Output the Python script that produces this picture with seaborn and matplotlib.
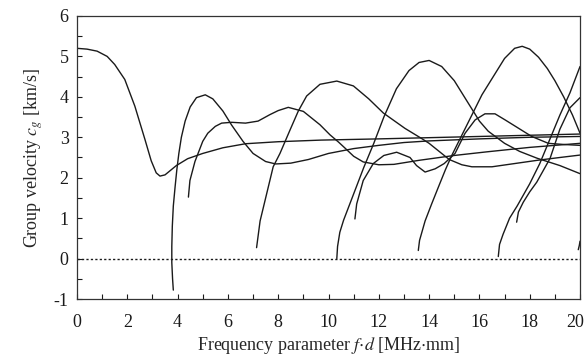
import numpy as np
import pandas as pd
import matplotlib
matplotlib.use("Agg")
from matplotlib import pyplot as plt
from matplotlib import transforms
from matplotlib.ticker import MultipleLocator
import seaborn as sns

# points (f*d in MHz*mm, group velocity in km/s)
m1_fd = [0, 0.4, 0.8, 1.2, 1.5, 1.9, 2.3, 2.7, 2.95, 3.15, 3.3, 3.5, 3.95, 4.4, 5.0, 5.8, 6.7, 8, 9.7, 12, 14, 16, 18, 20]
m1_cg = [5.2, 5.18, 5.13, 5.0, 4.8, 4.43, 3.77, 2.95, 2.42, 2.12, 2.04, 2.07, 2.3, 2.47, 2.6, 2.74, 2.84, 2.89, 2.93, 2.96, 2.99, 3.02, 3.05, 3.08]

m2_fd = [3.83, 3.8, 3.77, 3.77, 3.79, 3.83, 3.9, 3.97, 4.05, 4.15, 4.3, 4.5, 4.75, 5.1, 5.4, 5.8, 6.15, 6.6, 7.0, 7.5, 7.9, 8.5, 9.2, 10, 11, 12, 13, 14, 16, 18, 20]
m2_cg = [-0.78, -0.5, -0.1, 0.3, 0.8, 1.3, 1.77, 2.2, 2.6, 3.0, 3.4, 3.75, 3.98, 4.05, 3.95, 3.65, 3.3, 2.9, 2.6, 2.4, 2.34, 2.36, 2.45, 2.6, 2.72, 2.8, 2.87, 2.91, 2.96, 3.0, 3.02]

m3_fd = [4.43, 4.49, 4.69, 5.0, 5.2, 5.5, 5.75, 6.15, 6.7, 7.2, 7.67, 8.0, 8.4, 9.0, 9.66, 10.06, 10.4, 10.66, 11.0, 11.38, 12.0, 12.6, 13.6, 15, 16.3, 18, 20]
m3_cg = [1.52, 1.93, 2.4, 2.9, 3.1, 3.27, 3.35, 3.37, 3.35, 3.4, 3.56, 3.66, 3.74, 3.64, 3.31, 3.06, 2.88, 2.73, 2.53, 2.39, 2.32, 2.33, 2.43, 2.55, 2.64, 2.75, 2.85]

m4_fd = [7.14, 7.28, 7.54, 7.8, 8.07, 8.47, 8.8, 9.13, 9.66, 10.33, 10.99, 11.6, 12.18, 13.04, 13.7, 14.0, 14.4, 14.8, 15.3, 15.7, 16.5, 17.4, 18.3, 19.2, 20]
m4_cg = [0.27, 0.93, 1.6, 2.27, 2.6, 3.18, 3.65, 4.02, 4.31, 4.39, 4.27, 3.95, 3.6, 3.22, 2.97, 2.85, 2.65, 2.45, 2.32, 2.27, 2.27, 2.35, 2.43, 2.5, 2.56]

m5_fd = [10.33, 10.36, 10.45, 10.6, 11.0, 11.4, 11.8, 12.2, 12.7, 13.2, 13.6, 14.0, 14.5, 15.0, 15.4, 15.7, 16.0, 16.35, 17.0, 17.6, 18.3, 19.2, 20]
m5_cg = [0.0, 0.3, 0.65, 0.95, 1.6, 2.25, 2.85, 3.5, 4.2, 4.65, 4.85, 4.9, 4.75, 4.4, 4.0, 3.7, 3.4, 3.15, 2.85, 2.65, 2.48, 2.3, 2.1]

m6_fd = [11.05, 11.12, 11.38, 11.78, 12.2, 12.71, 13.24, 13.5, 13.84, 14.24, 14.6, 15.03, 15.43, 15.83, 16.22, 16.62, 17.02, 18.08, 18.74, 19.4, 20]
m6_cg = [0.98, 1.35, 1.93, 2.35, 2.55, 2.63, 2.5, 2.3, 2.14, 2.22, 2.35, 2.6, 3.1, 3.43, 3.58, 3.58, 3.43, 3.02, 2.85, 2.82, 2.8]

m7_fd = [13.57, 13.62, 13.84, 14.1, 14.37, 14.65, 14.9, 15.3, 15.7, 16.1, 16.5, 17.0, 17.4, 17.7, 18.0, 18.35, 18.7, 19.0, 19.35, 19.7, 20]
m7_cg = [0.2, 0.45, 0.93, 1.35, 1.77, 2.2, 2.55, 3.05, 3.55, 4.05, 4.45, 4.95, 5.2, 5.25, 5.18, 4.98, 4.7, 4.4, 4.0, 3.55, 3.1]

m8_fd = [16.75, 16.8, 16.94, 17.2, 17.5, 18.0, 18.4, 18.8, 19.2, 19.6, 20]
m8_cg = [0.05, 0.35, 0.6, 1.0, 1.3, 1.85, 2.35, 2.95, 3.55, 4.1, 4.75]

m9_fd = [17.48, 17.55, 17.74, 18.0, 18.28, 18.81, 19.2, 19.6, 20]
m9_cg = [0.9, 1.15, 1.39, 1.65, 1.89, 2.48, 3.2, 3.73, 3.98]

m10_fd = [19.93, 19.97, 20]
m10_cg = [0.22, 0.32, 0.43]

x_ticks = [0, 2, 4, 6, 8, 10, 12, 14, 16, 18, 20]
y_ticks = [-1, 0, 1, 2, 3, 4, 5, 6]

modes = [(m1_fd, m1_cg), (m2_fd, m2_cg), (m3_fd, m3_cg), (m4_fd, m4_cg), (m5_fd, m5_cg),
         (m6_fd, m6_cg), (m7_fd, m7_cg), (m8_fd, m8_cg), (m9_fd, m9_cg), (m10_fd, m10_cg)]

rows = []
for i, (fd, cg) in enumerate(modes):
    for a, b in zip(fd, cg):
        rows.append({"mode": i, "fd": a, "cg": b})
df = pd.DataFrame(rows)

sns.set_style("ticks")
plt.rcParams['font.family'] = ['Liberation Serif', 'DejaVu Serif']
plt.rcParams['mathtext.fontset'] = 'stix'
plt.rcParams['axes.unicode_minus'] = False

fig = plt.figure(figsize=(5.85, 3.63), dpi=100)
ax = fig.add_axes([0.1316, 0.1763, 0.8599, 0.7797])

sns.lineplot(data=df, x="fd", y="cg", units="mode", estimator=None, sort=False,
             color="#1a1a1a", linewidth=1.0, ax=ax)
ax.axhline(0, color="#1a1a1a", linewidth=1.0, linestyle=(0, (1.6, 1.6)))

ax.set_xlim(0, 20)
ax.set_ylim(-1, 6)
ax.set_xticks(x_ticks)
ax.set_yticks(y_ticks)
ax.xaxis.set_minor_locator(MultipleLocator(1))
ax.yaxis.set_minor_locator(MultipleLocator(0.5))
ax.tick_params(which="both", direction="in", length=3.5, width=0.8, labelsize=13,
               top=False, right=False, colors="#1a1a1a")
ax.tick_params(axis="x", pad=11)
ax.tick_params(axis="y", pad=6)
for s in ax.spines.values():
    s.set_visible(True)
    s.set_linewidth(0.9)
    s.set_color("#333333")

ax.set_xlabel(r"Frequency parameter $f{\cdot}d$ [MHz$\cdot$mm]", fontsize=13, labelpad=3)
ax.set_ylabel(r"Group velocity $c_g$ [km/s]", fontsize=13, labelpad=6)

# keep the last x tick label ("20") inside the picture
lab = ax.xaxis.get_major_ticks()[-1].label1
lab.set_transform(lab.get_transform() + transforms.ScaledTranslation(-5 / 100, 0, fig.dpi_scale_trans))

fig.savefig("out.png", dpi=100)
